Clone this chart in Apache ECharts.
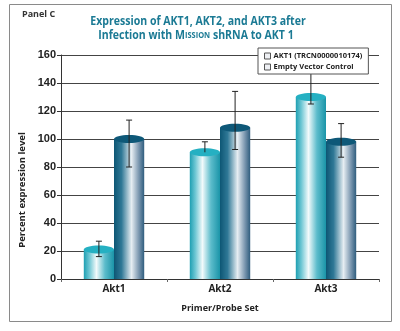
<!DOCTYPE html>
<html><head><meta charset="utf-8">
<script src="https://cdn.jsdelivr.net/npm/echarts@6/dist/echarts.min.js"></script>
<style>html,body{margin:0;padding:0;background:#fff}#c{width:400px;height:331px}</style>
</head><body><div id="c"></div>
<script>
var categories = ['Akt1', 'Akt2', 'Akt3'];
var akt1Values = [21, 90.5, 130];
var akt1ErrLow = [16, 90.5, 125];
var akt1ErrHigh = [27, 98, 158];
var controlValues = [100, 108, 98];
var controlErrLow = [80, 92.5, 87];
var controlErrHigh = [113.5, 134, 111];
var yTicks = [0, 20, 40, 60, 80, 100, 120, 140, 160];
var seriesNames = ['AKT1 (TRCN0000010174)', 'Empty Vector Control'];

var chart = echarts.init(document.getElementById('c'));

function makeRender(side, vals, lows, highs, grad, cap) {
  return function (params, api) {
    var i = api.value(0);
    var v = api.value(1);
    var band = api.size([1, 0])[0];
    var bw = band * 0.285;
    var top = api.coord([i, v]);
    var base = api.coord([i, 0]);
    var cx = top[0] + side * bw / 2;
    var x0 = cx - bw / 2;
    var lo = api.coord([i, lows[params.dataIndex]]);
    var hi = api.coord([i, highs[params.dataIndex]]);
    var ry = 4;
    var children = [
      { type: 'rect', shape: { x: x0, y: top[1], width: bw, height: base[1] - top[1] },
        style: { fill: grad } },
      { type: 'ellipse', shape: { cx: cx, cy: top[1], rx: bw / 2, ry: ry },
        style: { fill: cap } },
      { type: 'line', shape: { x1: cx, y1: hi[1], x2: cx, y2: lo[1] },
        style: { stroke: '#222', lineWidth: 1 } },
      { type: 'line', shape: { x1: cx - 3, y1: hi[1], x2: cx + 3, y2: hi[1] },
        style: { stroke: '#222', lineWidth: 1 } }
    ];
    if (lo[1] - top[1] > 1) {
      children.push({ type: 'line', shape: { x1: cx - 3, y1: lo[1], x2: cx + 3, y2: lo[1] },
        style: { stroke: '#222', lineWidth: 1 } });
    }
    return { type: 'group', children: children };
  };
}

var gradA = new echarts.graphic.LinearGradient(0, 0, 1, 0, [
  { offset: 0, color: '#1e9fb2' },
  { offset: 0.18, color: '#6cc6d3' },
  { offset: 0.42, color: '#f2fafb' },
  { offset: 0.7, color: '#5cbccb' },
  { offset: 1, color: '#1a94a8' }
]);
var gradB = new echarts.graphic.LinearGradient(0, 0, 1, 0, [
  { offset: 0, color: '#0d5674' },
  { offset: 0.25, color: '#2f7896' },
  { offset: 0.58, color: '#e6edf2' },
  { offset: 0.82, color: '#7c98b0' },
  { offset: 1, color: '#2f5d7e' }
]);

function toData(vals) { return vals.map(function (v, i) { return [i, v]; }); }

var titleRich = {
  t: { font: 'bold 12px "Open Sans"', fill: '#1b7a94', lineHeight: 14 },
  s: { font: 'bold 8.5px "Open Sans"', fill: '#1b7a94', lineHeight: 14 }
};

chart.setOption({
  animation: false,
  graphic: [
    { type: 'rect', shape: { x: 9.5, y: 4.5, width: 382, height: 317 },
      style: { fill: 'none', stroke: '#8a8a8a', lineWidth: 1 }, z: 0 },
    { type: 'text', x: 22, y: 10,
      style: { text: 'Panel C', font: 'bold 9px "Open Sans"', fill: '#333' } },
    { type: 'text', x: 198, y: 22, scaleX: 0.88,
      style: { text: '{t|Expression of AKT1, AKT2, and AKT3 after}', align: 'center', verticalAlign: 'middle', rich: titleRich } },
    { type: 'text', x: 196, y: 36, scaleX: 0.88,
      style: { text: '{t|Infection with }{t|M}{s|ISSION}{t| shRNA to AKT 1}', align: 'center', verticalAlign: 'middle', rich: titleRich } },
    { type: 'text', x: 22, y: 190, rotation: Math.PI / 2,
      style: { text: 'Percent expression level', font: 'bold 9.5px "Open Sans"', fill: '#222', align: 'center', verticalAlign: 'middle' } }
  ],
  grid: { left: 61, right: 21, top: 55, bottom: 52 },
  xAxis: {
    type: 'category', data: categories,
    name: 'Primer/Probe Set', nameLocation: 'middle', nameGap: 25,
    nameTextStyle: { fontFamily: 'Open Sans', fontWeight: 'bold', fontSize: 9, color: '#222' },
    axisLine: { lineStyle: { color: '#333' } },
    axisTick: { show: true, alignWithLabel: false, length: 3, lineStyle: { color: '#666' } },
    axisLabel: { fontFamily: 'Open Sans', fontWeight: 'bold', fontSize: 10, color: '#222', margin: 5 }
  },
  yAxis: {
    type: 'value', min: 0, max: 160, interval: 20,
    axisLine: { show: true, lineStyle: { color: '#333' } },
    axisTick: { show: true, length: 4, lineStyle: { color: '#333' } },
    axisLabel: { fontFamily: 'Liberation Sans', fontWeight: 'bold', fontSize: 11, color: '#222', margin: 5,
      formatter: function (v) { return yTicks.indexOf(v) >= 0 ? String(v) : ''; } },
    splitLine: { lineStyle: { color: '#444', width: 1 } }
  },
  legend: {
    orient: 'vertical', left: 258, top: 48, itemWidth: 6, itemHeight: 6, itemGap: 3,
    padding: [4, 6, 3, 6],
    backgroundColor: '#fff', borderColor: '#555', borderWidth: 1, borderRadius: 0,
    icon: 'rect',
    textStyle: { fontFamily: 'Open Sans', fontWeight: 'bold', fontSize: 7.5, color: '#222', padding: [0, 0, 0, -2] },
    data: [
      { name: seriesNames[0], itemStyle: { color: '#eef0f4', borderColor: '#555', borderWidth: 1 } },
      { name: seriesNames[1], itemStyle: { color: '#eef0f4', borderColor: '#555', borderWidth: 1 } }
    ],
    z: 10
  },
  series: [
    { name: seriesNames[0], type: 'custom', data: toData(akt1Values), encode: { x: 0, y: 1 },
      itemStyle: { color: '#1e9fb2' },
      renderItem: makeRender(-1, akt1Values, akt1ErrLow, akt1ErrHigh, gradA, '#25b0c2') },
    { name: seriesNames[1], type: 'custom', data: toData(controlValues), encode: { x: 0, y: 1 },
      itemStyle: { color: '#0d5674' },
      renderItem: makeRender(1, controlValues, controlErrLow, controlErrHigh, gradB, '#0e5878') }
  ]
});
</script></body></html>
